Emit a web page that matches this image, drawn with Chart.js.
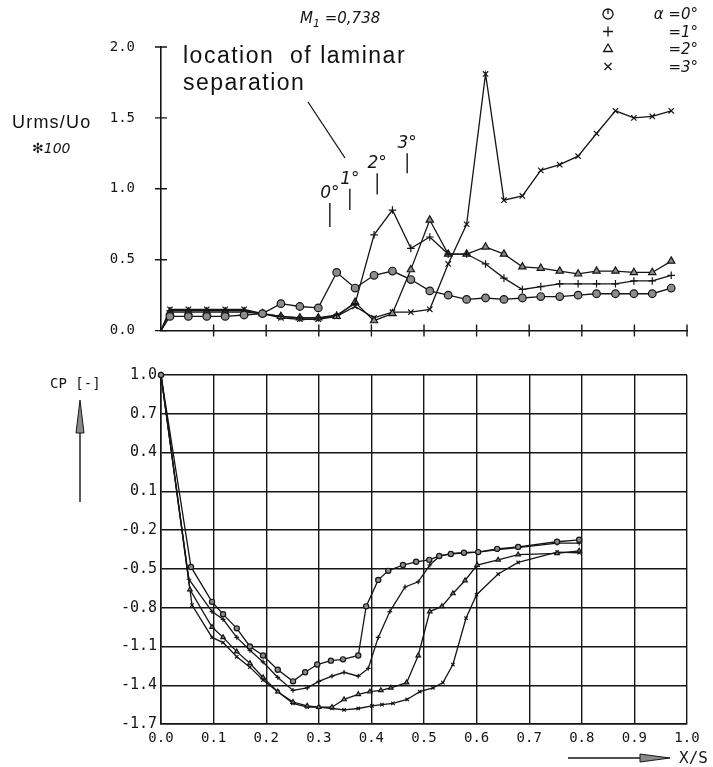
<!DOCTYPE html>
<html>
<head>
<meta charset="utf-8">
<script src="https://cdn.jsdelivr.net/npm/chart.js@4.4.0/dist/chart.umd.min.js"></script>
<style>
  html, body { margin: 0; padding: 0; background: #fff; }
  #wrap { position: relative; width: 713px; height: 767px; overflow: hidden; }
  canvas { position: absolute; left: 0; }
  #urmsChart { top: 0; }
  #cpChart { top: 360px; }
  .lbl { position: absolute; white-space: nowrap; color: #151515; line-height: 1;
         font-family: "DejaVu Sans", sans-serif; transform: translateY(-50%); }
  .it { font-style: italic; }
  .mono { font-family: "DejaVu Sans Mono", monospace; }
  .note { font-family: "Liberation Sans", Arial, sans-serif; color: #111; }
  .right { transform: translate(-100%, -50%); }
  svg { position: absolute; left: 0; top: 0; pointer-events: none; }
</style>
</head>
<body>
<div id="wrap">
  <canvas id="urmsChart" width="713" height="365"></canvas>
  <canvas id="cpChart" width="713" height="407"></canvas>

  <div class="lbl it" style="left:300px; top:20px; font-size:15px;">M<sub style="font-size:11px;">1</sub> =0,738</div>
  <div class="lbl note" style="left:183px; top:55px; font-size:23px; letter-spacing:1.5px;">location&nbsp; of laminar</div>
  <div class="lbl note" style="left:183px; top:82px; font-size:23px; letter-spacing:1.5px;">separation</div>
  <div class="lbl note" style="left:12px; top:122px; font-size:18px; letter-spacing:1.2px;">Urms/Uo</div>
  <div class="lbl it" style="left:32px; top:148px; font-size:14px;">&#x273B;100</div>
  <div class="lbl mono" style="left:50px; top:383px; font-size:14px;">CP [-]</div>
  <div class="lbl mono" style="left:679px; top:758px; font-size:16px;">X/S</div>
  <div id="legendText"></div>

  <svg width="713" height="767">
    <line x1="308" y1="102" x2="345" y2="158" stroke="#151515" stroke-width="1.3"/>
    <line x1="80" y1="502" x2="80" y2="428" stroke="#151515" stroke-width="1.4"/>
    <polygon points="80,400 76,433 84,433" fill="#8a8a8a" stroke="#151515" stroke-width="1"/>
    <line x1="568" y1="758" x2="642" y2="758" stroke="#151515" stroke-width="1.4"/>
    <polygon points="670,758 640,754 640,762" fill="#8a8a8a" stroke="#151515" stroke-width="1"/>
  </svg>
</div>

<script>
// angle of attack per series and its marker
const alphaLabels = ['0°', '1°', '2°', '3°'];
const legendLabels = ['α =0°', '=1°', '=2°', '=3°'];
const pointStyles = ['circle', 'cross', 'triangle', 'crossRot'];

// tick values
const xTicks = [0.0, 0.1, 0.2, 0.3, 0.4, 0.5, 0.6, 0.7, 0.8, 0.9, 1.0];
const urmsTicks = [0.0, 0.5, 1.0, 1.5, 2.0];
const cpTicks = [-1.7, -1.4, -1.1, -0.8, -0.5, -0.2, 0.1, 0.4, 0.7, 1.0];

// hot-film stations (X/S) for the Urms/Uo*100 traces
const urmsX = [0.0, 0.017, 0.052, 0.087, 0.122, 0.158, 0.193, 0.228, 0.264, 0.299,
  0.334, 0.369, 0.405, 0.440, 0.475, 0.511, 0.546, 0.581, 0.617, 0.652,
  0.687, 0.722, 0.758, 0.793, 0.828, 0.864, 0.899, 0.934, 0.970];
const urms0 = [0, 0.10, 0.10, 0.10, 0.10, 0.11, 0.12, 0.19, 0.17, 0.16,
  0.41, 0.30, 0.39, 0.42, 0.36, 0.28, 0.25, 0.22, 0.23, 0.22,
  0.23, 0.24, 0.24, 0.25, 0.26, 0.26, 0.26, 0.26, 0.30];
const urms1 = [0, 0.14, 0.14, 0.14, 0.14, 0.14, 0.12, 0.10, 0.09, 0.09,
  0.11, 0.19, 0.675, 0.85, 0.58, 0.66, 0.54, 0.54, 0.47, 0.37,
  0.29, 0.31, 0.33, 0.33, 0.33, 0.33, 0.35, 0.35, 0.39];
const urms2 = [0, 0.13, 0.13, 0.13, 0.13, 0.13, 0.12, 0.10, 0.09, 0.09,
  0.10, 0.20, 0.07, 0.12, 0.43, 0.78, 0.54, 0.54, 0.59, 0.54,
  0.45, 0.44, 0.42, 0.40, 0.42, 0.42, 0.41, 0.41, 0.49];
const urms3 = [0, 0.15, 0.15, 0.15, 0.15, 0.15, 0.12, 0.09, 0.08, 0.08,
  0.10, 0.17, 0.09, 0.13, 0.13, 0.15, 0.47, 0.75, 1.81, 0.92,
  0.95, 1.13, 1.17, 1.23, 1.39, 1.55, 1.50, 1.51, 1.55];

// laminar separation location and the short marker span above the traces
const sepX = [0.321, 0.359, 0.411, 0.468];
const sepTop = [0.90, 1.00, 1.11, 1.25];
const sepBottom = [0.73, 0.85, 0.96, 1.11];

// pressure distributions
const cpX0 = [0, 0.057, 0.097, 0.118, 0.144, 0.169, 0.194, 0.222, 0.251, 0.274, 0.297, 0.323, 0.346, 0.375,
  0.390, 0.413, 0.432, 0.460, 0.485, 0.510, 0.529, 0.551, 0.576, 0.603, 0.639, 0.679, 0.753, 0.795];
const cp0 = [1.0, -0.485, -0.755, -0.85, -0.96, -1.10, -1.17, -1.28, -1.37, -1.30, -1.24, -1.21, -1.20, -1.17,
  -0.79, -0.585, -0.515, -0.47, -0.445, -0.43, -0.40, -0.385, -0.375, -0.37, -0.345, -0.33, -0.29, -0.275];
const cpX1 = [0, 0.053, 0.097, 0.118, 0.144, 0.169, 0.194, 0.222, 0.251, 0.278, 0.300, 0.325, 0.348, 0.375,
  0.394, 0.413, 0.435, 0.464, 0.489, 0.511, 0.530, 0.553, 0.578, 0.603, 0.641, 0.679, 0.753, 0.795];
const cp1 = [1.0, -0.58, -0.83, -0.89, -1.03, -1.13, -1.22, -1.34, -1.44, -1.42, -1.37, -1.33, -1.30, -1.33,
  -1.27, -1.03, -0.83, -0.64, -0.60, -0.47, -0.40, -0.38, -0.375, -0.37, -0.35, -0.335, -0.30, -0.30];
const cpX2 = [0, 0.055, 0.097, 0.118, 0.144, 0.169, 0.194, 0.222, 0.251, 0.278, 0.300, 0.325, 0.348, 0.375,
  0.397, 0.418, 0.437, 0.467, 0.489, 0.511, 0.534, 0.555, 0.578, 0.601, 0.641, 0.679, 0.753, 0.795];
const cp2 = [1.0, -0.66, -0.95, -1.03, -1.14, -1.23, -1.34, -1.45, -1.53, -1.56, -1.57, -1.57, -1.51, -1.47,
  -1.45, -1.44, -1.42, -1.38, -1.17, -0.83, -0.79, -0.69, -0.59, -0.47, -0.43, -0.39, -0.38, -0.36];
const cpX3 = [0, 0.059, 0.097, 0.118, 0.144, 0.169, 0.194, 0.222, 0.251, 0.278, 0.300, 0.325, 0.348, 0.375,
  0.401, 0.420, 0.441, 0.468, 0.492, 0.517, 0.536, 0.555, 0.580, 0.600, 0.641, 0.679, 0.753, 0.795];
const cp3 = [1.0, -0.78, -1.03, -1.07, -1.18, -1.26, -1.36, -1.45, -1.54, -1.57, -1.57, -1.58, -1.59, -1.58,
  -1.56, -1.55, -1.54, -1.51, -1.45, -1.42, -1.38, -1.24, -0.88, -0.70, -0.54, -0.45, -0.37, -0.375];

const INK = '#151515';
const FILL = '#8c8c8c';

function pairs(xs, ys) {
  return xs.map((x, i) => ({ x: x, y: ys[i] }));
}

function series(xs, ys, k, r, firstMarker) {
  return {
    label: alphaLabels[k],
    data: pairs(xs, ys),
    pointStyle: pointStyles[k],
    pointRadius: (c) => (c.dataIndex === 0 && !firstMarker) ? 0 : r,
    pointBackgroundColor: FILL,
    pointBorderColor: INK,
    pointBorderWidth: 1.2,
    borderColor: INK,
    borderWidth: 1.3,
    tension: 0,
    clip: false
  };
}

function fixedTicks(list) {
  return (scale) => { scale.ticks = list.map(v => ({ value: v })); };
}

const tickFont = { family: '"DejaVu Sans Mono", monospace', size: 14 };
const fmt = (v) => Number(v).toFixed(1);

// plus-shaped ticks across both axes, separation marks and the marker legend
const urmsDecor = {
  id: 'urmsDecor',
  afterDraw(chart) {
    const { ctx, chartArea: a } = chart;
    const x = chart.scales.x, y = chart.scales.y;
    ctx.save();
    ctx.strokeStyle = INK;
    ctx.lineWidth = 1.4;
    ctx.beginPath();
    urmsTicks.forEach(v => {
      const py = y.getPixelForValue(v);
      ctx.moveTo(a.left - 6, py); ctx.lineTo(a.left + 6, py);
    });
    xTicks.slice(1).forEach(v => {
      const px = x.getPixelForValue(v);
      ctx.moveTo(px, a.bottom - 6); ctx.lineTo(px, a.bottom + 6);
    });
    sepX.forEach((sx, k) => {
      const px = x.getPixelForValue(sx);
      ctx.moveTo(px, y.getPixelForValue(sepTop[k]));
      ctx.lineTo(px, y.getPixelForValue(sepBottom[k]));
    });
    ctx.stroke();

    ctx.fillStyle = INK;
    ctx.font = 'italic 17px "DejaVu Sans", sans-serif';
    ctx.textAlign = 'center';
    sepX.forEach((sx, k) => {
      ctx.fillText(alphaLabels[k], x.getPixelForValue(sx), y.getPixelForValue(sepTop[k]) - 5);
    });

    // legend markers
    chart.data.datasets.forEach((ds, k) => {
      const py = 14 + k * 17.5;
      ctx.fillStyle = k === 0 ? '#fff' : '#fff';
      ctx.strokeStyle = INK;
      ctx.lineWidth = 1.3;
      Chart.helpers.drawPoint(ctx, { pointStyle: ds.pointStyle, radius: 5, borderWidth: 1.3, rotation: 0 }, 608, py);
      if (k === 0) {
        ctx.beginPath(); ctx.moveTo(608, py - 5); ctx.lineTo(608, py); ctx.stroke();
      }
    });
    ctx.restore();
  }
};

new Chart(document.getElementById('urmsChart'), {
  type: 'line',
  data: {
    datasets: [
      series(urmsX, urms0, 0, 3.8, false),
      series(urmsX, urms1, 1, 3.8, false),
      series(urmsX, urms2, 2, 4.2, false),
      series(urmsX, urms3, 3, 3.8, false)
    ]
  },
  options: {
    responsive: false,
    animation: false,
    events: [],
    layout: { padding: { top: 47, right: 26, left: 0, bottom: 0 } },
    plugins: { legend: { display: false }, tooltip: { enabled: false } },
    scales: {
      x: {
        type: 'linear', min: 0, max: 1,
        afterBuildTicks: fixedTicks(xTicks),
        afterFit: (s) => { s.height = 13; },
        ticks: { display: false },
        grid: { drawOnChartArea: false, drawTicks: false },
        border: { color: INK, width: 1.6 }
      },
      y: {
        type: 'linear', min: 0, max: 2,
        afterBuildTicks: fixedTicks(urmsTicks),
        afterFit: (s) => { s.width = 161; },
        ticks: { padding: 26, font: tickFont, color: INK, callback: fmt, autoSkip: false },
        grid: { drawOnChartArea: false, drawTicks: false },
        border: { color: INK, width: 1.6 }
      }
    }
  },
  plugins: [urmsDecor]
});

new Chart(document.getElementById('cpChart'), {
  type: 'line',
  data: {
    datasets: [
      series(cpX0, cp0, 0, 2.6, true),
      series(cpX1, cp1, 1, 2.4, true),
      series(cpX2, cp2, 2, 2.6, true),
      series(cpX3, cp3, 3, 2.4, true)
    ]
  },
  options: {
    responsive: false,
    animation: false,
    events: [],
    layout: { padding: { top: 15, right: 26, left: 0, bottom: 0 } },
    plugins: { legend: { display: false }, tooltip: { enabled: false } },
    scales: {
      x: {
        type: 'linear', min: 0, max: 1,
        afterBuildTicks: fixedTicks(xTicks),
        afterFit: (s) => { s.height = 43; },
        ticks: { padding: 6, font: tickFont, color: INK, callback: fmt, maxRotation: 0, autoSkip: false },
        grid: { color: INK, lineWidth: 1.4, drawTicks: false },
        border: { color: INK, width: 1.6 }
      },
      y: {
        type: 'linear', min: -1.7, max: 1.0,
        afterBuildTicks: fixedTicks(cpTicks),
        afterFit: (s) => { s.width = 161; },
        ticks: { padding: 4, font: { family: tickFont.family, size: 15 }, color: INK, callback: fmt, autoSkip: false },
        grid: { color: INK, lineWidth: 1.4, drawTicks: false },
        border: { color: INK, width: 1.6 }
      }
    }
  }
});

// legend captions, right-aligned next to the markers
const legendBox = document.getElementById('legendText');
legendLabels.forEach((t, k) => {
  const d = document.createElement('div');
  d.className = 'lbl it right';
  d.style.left = '698px';
  d.style.top = (14 + k * 17.5) + 'px';
  d.style.fontSize = '15px';
  d.textContent = t;
  legendBox.appendChild(d);
});
</script>
</body>
</html>
